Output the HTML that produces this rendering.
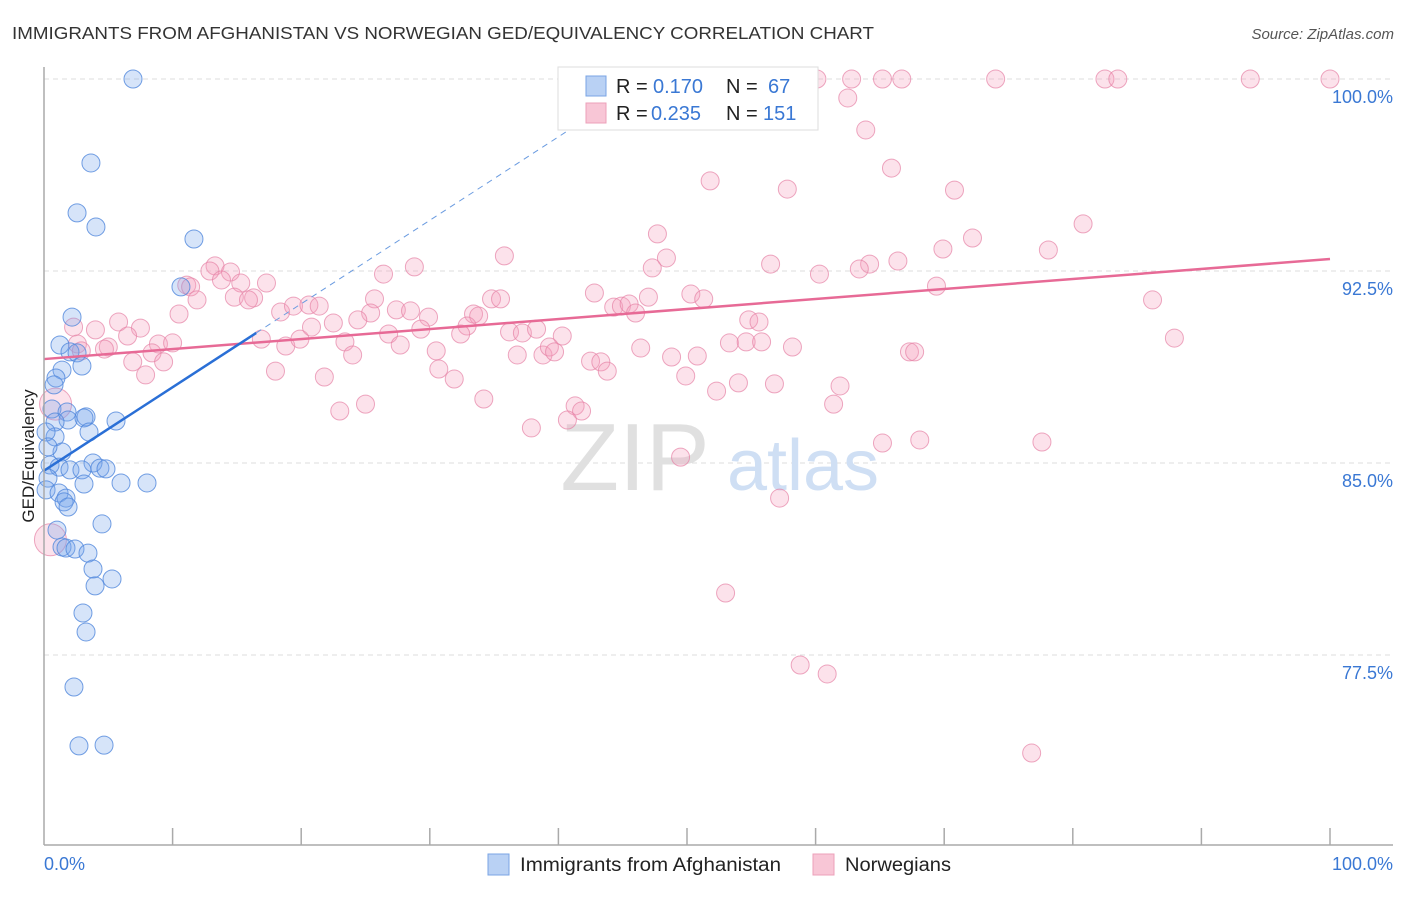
<!DOCTYPE html>
<html><head><meta charset="utf-8"><style>
body{margin:0;background:#fff;font-family:"Liberation Sans",sans-serif;}
svg text{font-family:"Liberation Sans",sans-serif;}
</style></head><body>
<svg width="1406" height="892" viewBox="0 0 1406 892">
<text x="12" y="39" font-size="17.5" fill="#333" textLength="862" lengthAdjust="spacingAndGlyphs">IMMIGRANTS FROM AFGHANISTAN VS NORWEGIAN GED/EQUIVALENCY CORRELATION CHART</text>
<text x="1394" y="39" font-size="15" fill="#555" font-style="italic" text-anchor="end">Source: ZipAtlas.com</text>
<g id="grid"></g>
<text x="635" y="490" font-size="96" fill="#e0e0e0" font-family="Liberation Serif" text-anchor="middle">ZIP</text>
<text x="803" y="490" font-size="72" fill="#cfdff4" text-anchor="middle">atlas</text>
<g id="pts"></g>
<g id="lines"></g>
<line x1="44" y1="67" x2="44" y2="845" stroke="#aaa" stroke-width="1.5"/>
<line x1="44" y1="845" x2="1393" y2="845" stroke="#aaa" stroke-width="1.5"/>
<text transform="translate(34,456) rotate(-90)" font-size="17" fill="#222" text-anchor="middle">GED/Equivalency</text>
<text x="44" y="870" font-size="18" fill="#3a78d4">0.0%</text>
<text x="1393" y="870" font-size="18" fill="#3a78d4" text-anchor="end">100.0%</text>
<g>
<rect x="558" y="67" width="260" height="63" fill="#fff" stroke="#ddd"/>
<rect x="586" y="76" width="20" height="20" fill="#b9d1f4" stroke="#7aa4e4"/>
<rect x="586" y="103" width="20" height="20" fill="#f8c6d6" stroke="#eca0ba"/>
<text x="616" y="93" font-size="20" fill="#222">R =</text>
<text x="653" y="93" font-size="20" fill="#3a78d4">0.170</text>
<text x="726" y="93" font-size="20" fill="#222">N =</text>
<text x="768" y="93" font-size="20" fill="#3a78d4">67</text>
<text x="616" y="120" font-size="20" fill="#222">R =</text>
<text x="651" y="120" font-size="20" fill="#3a78d4">0.235</text>
<text x="726" y="120" font-size="20" fill="#222">N =</text>
<text x="763" y="120" font-size="20" fill="#3a78d4">151</text>
</g>
<g>
<rect x="488" y="854" width="21" height="21" fill="#b9d1f4" stroke="#7aa4e4"/>
<text x="520" y="871" font-size="19" fill="#222" textLength="261" lengthAdjust="spacingAndGlyphs">Immigrants from Afghanistan</text>
<rect x="813" y="854" width="21" height="21" fill="#f8c6d6" stroke="#eca0ba"/>
<text x="845" y="871" font-size="19" fill="#222" textLength="106" lengthAdjust="spacingAndGlyphs">Norwegians</text>
</g>
</svg>
<script>
const yTicks=[100,92.5,85,77.5];
const yTickLabels=["100.0%","92.5%","85.0%","77.5%"];
const xTicks=[10,20,30,40,50,60,70,80,90,100];
const blueX=[6.92,3.65,2.57,4.04,11.66,10.65,2.18,1.24,2.02,2.57,2.95,1.40,0.93,0.78,0.62,1.79,1.87,0.86,0.86,3.27,3.11,5.60,3.50,1.40,3.81,0.47,1.17,2.02,2.95,4.35,4.82,5.99,8.01,0.31,0.16,3.11,1.17,1.71,1.56,1.87,4.51,1.01,1.40,1.71,2.41,3.42,3.81,5.29,3.97,3.03,3.27,2.33,2.72,4.67,0.16,0.31];
const blueY=[100,96.72,94.77,94.22,93.75,91.88,90.70,89.61,89.34,89.30,88.79,88.63,88.32,88.05,87.11,86.99,86.68,86.60,86.02,86.80,86.76,86.64,86.21,85.43,85.0,84.92,84.84,84.73,84.73,84.80,84.77,84.22,84.22,84.41,83.95,84.18,83.83,83.63,83.48,83.28,82.62,82.38,81.72,81.68,81.64,81.48,80.86,80.47,80.20,79.14,78.40,76.25,73.95,73.98,86.21,85.63];
const pinkX=[60.1,62.8,65.2,66.7,74.0,82.5,83.5,93.8,100,62.5,63.9,65.9,51.8,57.8,70.8,47.7,80.8,72.2,69.9,78.1,35.8,48.4,47.3,56.5,66.4,64.2,63.4,60.3,28.8,26.4,13.3,12.9,14.5,13.8,15.3,17.3,11.1,11.4,11.9,14.8,16.3,15.9,69.4,42.8,50.3,51.3,47.0,34.8,35.5,86.2,25.7,18.4,19.4,20.6,21.4,10.5,25.4,27.4,28.5,29.9,33.4,33.8,44.3,44.9,45.5,46.0,5.8,7.5,2.3,4.0,6.5,8.9,10.0,16.9,18.8,19.9,20.8,22.5,23.4,24.4,26.8,27.7,29.3,32.9,32.4,36.2,37.2,38.3,40.3,54.8,55.6,53.3,54.6,55.8,58.2,87.9,2.6,5.0,4.7,2.9,8.4,9.3,6.9,24.0,30.5,36.8,38.8,39.3,39.7,46.4,48.8,50.8,67.3,67.7,18.0,42.5,43.3,43.8,30.7,7.9,21.8,31.9,49.9,54.0,56.8,61.9,34.2,52.3,23.0,25.0,41.3,41.8,40.7,37.9,61.4,65.2,68.1,77.6,49.5,57.2,53.0,58.8,60.9,76.8,0.5,0.9];
const pinkY=[100,100,100,100,100,100,100,100,100,99.26,98.01,96.52,96.02,95.70,95.66,93.95,94.34,93.79,93.36,93.32,93.09,93.01,92.62,92.77,92.89,92.77,92.58,92.38,92.66,92.38,92.70,92.50,92.46,92.15,92.03,92.03,91.95,91.88,91.37,91.48,91.45,91.37,91.91,91.64,91.60,91.41,91.48,91.41,91.41,91.37,91.41,90.90,91.13,91.17,91.13,90.82,90.86,90.98,90.94,90.70,90.82,90.74,91.09,91.13,91.21,90.86,90.51,90.27,90.31,90.20,89.96,89.65,89.69,89.84,89.57,89.84,90.31,90.47,89.73,90.59,90.04,89.61,90.23,90.35,90.04,90.12,90.08,90.23,89.96,90.59,90.51,89.69,89.73,89.73,89.53,89.88,89.65,89.53,89.45,89.38,89.30,88.95,88.95,89.22,89.38,89.22,89.22,89.53,89.34,89.49,89.14,89.18,89.34,89.34,88.59,88.98,88.95,88.59,88.67,88.44,88.36,88.28,88.40,88.13,88.09,88.01,87.50,87.81,87.03,87.30,87.23,87.03,86.68,86.37,87.30,85.78,85.90,85.82,85.23,83.63,79.92,77.11,76.76,73.67,82.0,87.3];
const blueTrend=[84.7,0.326];
const pinkTrend=[89.06,0.0391];
const blueSolidEnd=16.5;
const NS='http://www.w3.org/2000/svg';
function sx(v){return 44+v*12.86;}
function sy(v){return 79+(100-v)*25.6;}
function mk(t,a,p){const e=document.createElementNS(NS,t);for(const k in a)e.setAttribute(k,a[k]);p.appendChild(e);return e;}
const grid=document.getElementById('grid');
yTicks.forEach((v,i)=>{
 const l=mk('line',{x1:44,x2:1393,y1:sy(v),y2:sy(v),stroke:'#ddd','stroke-dasharray':'5,4'},grid);
 
 
 const t=mk('text',{x:1393,y:sy(v)+24,'font-size':18,fill:'#3a78d4','text-anchor':'end'},grid);
 t.textContent=yTickLabels[i];
 
 
});
xTicks.forEach(v=>{
 const l=mk('line',{x1:sx(v),x2:sx(v),y1:828,y2:845,stroke:'#aaa','stroke-width':1.5},grid);
 
 
});
const pts=document.getElementById('pts');
pinkX.forEach((x,i)=>{
 const big=i>=pinkX.length-2;
 const c=mk('circle',{cx:sx(x),cy:sy(pinkY[i]),r:big?16:9,fill:'rgba(244,160,190,0.3)',stroke:'rgba(230,130,165,0.7)','stroke-width':1},pts);
 
 
});
blueX.forEach((x,i)=>{
 const c=mk('circle',{cx:sx(x),cy:sy(blueY[i]),r:9,fill:'rgba(120,165,235,0.3)',stroke:'rgba(80,135,220,0.8)','stroke-width':1},pts);
 
 
});
const lines=document.getElementById('lines');
const pl=mk('line',{x1:sx(0),y1:sy(pinkTrend[0]),x2:sx(100),y2:sy(pinkTrend[0]+100*pinkTrend[1]),stroke:'#e76a96','stroke-width':2.5},lines);


const bEnd=blueTrend[0]+blueSolidEnd*blueTrend[1];
const bl=mk('line',{x1:sx(0),y1:sy(blueTrend[0]),x2:sx(blueSolidEnd),y2:sy(bEnd),stroke:'#2a6fd6','stroke-width':2.5},lines);


const xTop=(100-blueTrend[0])/blueTrend[1];
const bd=mk('line',{x1:sx(blueSolidEnd),y1:sy(bEnd),x2:sx(xTop),y2:sy(100),stroke:'#6a9be0','stroke-width':1,'stroke-dasharray':'6,5'},lines);


</script>
</body></html>
